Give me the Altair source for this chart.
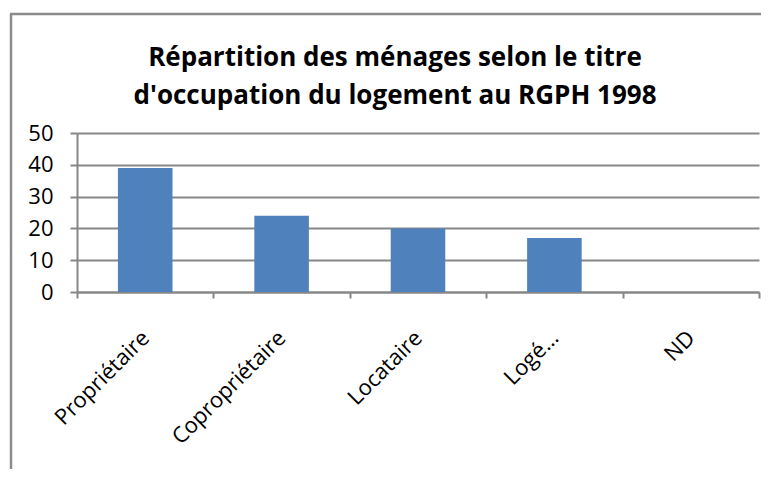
import altair as alt
import pandas as pd

categories = ["Propriétaire", "Copropriétaire", "Locataire", "Logé…", "ND"]
values = [39, 24, 20, 17, 0]
y_ticks = [0, 10, 20, 30, 40, 50]
title_lines = ["Répartition des ménages selon le titre",
               "d'occupation du logement au RGPH 1998"]

df = pd.DataFrame({"cat": categories, "val": values})

GREY = "#878787"
FONT = "Open Sans"

bars = alt.Chart(df).mark_bar(
    color="#4F81BD", width=alt.RelativeBandSize(0.4)
).encode(
    x=alt.X("cat:N", sort=categories, title=None,
            scale=alt.Scale(paddingInner=0, paddingOuter=0),
            axis=alt.Axis(tickBand="extent", labelAngle=-45, labelAlign="right",
                          labelBaseline="middle", labelFontSize=22, labelFont=FONT,
                          labelColor="black", labelPadding=36, tickSize=6,
                          tickColor=GREY, tickWidth=2, domainColor=GREY,
                          domainWidth=2, grid=False, labelLimit=400)),
    y=alt.Y("val:Q", title=None,
            scale=alt.Scale(domain=[0, 50], nice=False),
            axis=alt.Axis(values=y_ticks, labelFontSize=22, labelFont=FONT,
                          labelColor="black", labelPadding=17, tickSize=7,
                          tickColor=GREY, tickWidth=2, gridColor=GREY,
                          gridWidth=2, domainColor=GREY, domainWidth=2,
                          grid=True)),
)

border_v = alt.Chart(alt.Data(values=[{}])).mark_rule(
    color="#8c8c8c", strokeWidth=2.5
).encode(x=alt.value(-66), y=alt.value(-119), y2=alt.value(420))

border_h = alt.Chart(alt.Data(values=[{}])).mark_rule(
    color="#8c8c8c", strokeWidth=2.5
).encode(x=alt.value(-67), x2=alt.value(800), y=alt.value(-119))

chart = alt.layer(bars, border_v, border_h).properties(
    width=682, height=159,
    padding={"left": 69, "top": 125, "right": 2, "bottom": 177},
    autosize=alt.AutoSizeParams(type="none"),
    title=alt.TitleParams(text=title_lines, font=FONT, fontSize=26,
                          fontWeight="bold", color="black", lineHeight=38,
                          anchor="middle", dx=-23, dy=100),
).configure_view(stroke=None)

chart.save("out.html", embed_options={"renderer": "svg", "actions": False})
